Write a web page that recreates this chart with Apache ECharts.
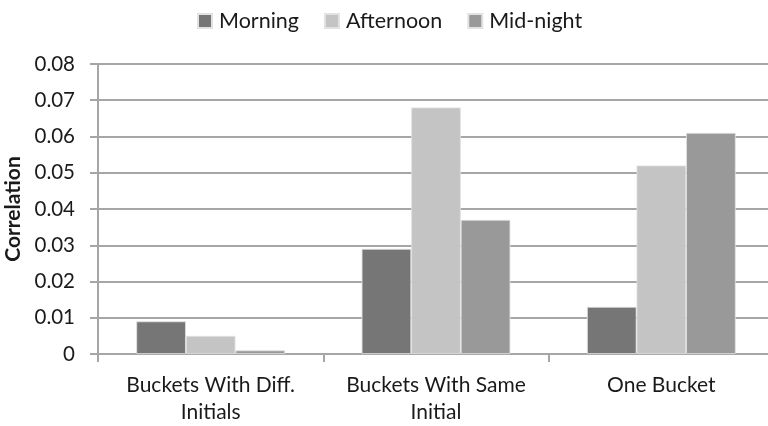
<!DOCTYPE html>
<html>
<head>
<meta charset="utf-8">
<script src="https://cdn.jsdelivr.net/npm/echarts@6/dist/echarts.min.js"></script>
<style>
  html, body { margin: 0; padding: 0; background: #fff; }
  #chart { width: 768px; height: 426px; }
</style>
</head>
<body>
<div id="chart"></div>
<script>
// Correlation by bucket strategy and time of day
const categories = ['Buckets With Diff.\nInitials', 'Buckets With Same\nInitial', 'One Bucket'];
const seriesNames = ['Morning', 'Afternoon', 'Mid-night'];
const morning = [0.009, 0.029, 0.013];
const afternoon = [0.005, 0.068, 0.052];
const midnight = [0.001, 0.037, 0.061];
const yTicks = ['0', '0.01', '0.02', '0.03', '0.04', '0.05', '0.06', '0.07', '0.08'];

const colors = ['#767676', '#c3c4c3', '#999999'];
const fontFamily = 'Lato, "Open Sans", sans-serif';
const axisGrey = '#a6a6a6';

const chart = echarts.init(document.getElementById('chart'), null, { renderer: 'canvas' });

const values = [morning, afternoon, midnight];

chart.setOption({
  animation: false,
  textStyle: { fontFamily: fontFamily },
  legend: {
    top: 5,
    left: 192,
    itemWidth: 14,
    itemHeight: 14,
    itemGap: 25,
    icon: 'rect',
    textStyle: { fontSize: 21.5, color: '#1a1a1a', fontFamily: fontFamily, padding: [0, 0, 0, 2] },
    data: seriesNames
  },
  grid: {
    left: 98, top: 64, width: 676, height: 290,
    containLabel: false,
    outerBoundsMode: 'none'
  },
  xAxis: {
    type: 'category',
    data: categories,
    axisLine: { show: true, lineStyle: { color: axisGrey, width: 2 } },
    axisTick: { show: true, length: 8, lineStyle: { color: axisGrey, width: 2 } },
    axisLabel: {
      interval: 0,
      hideOverlap: false,
      fontSize: 21, color: '#1a1a1a', margin: 18, lineHeight: 27,
      fontFamily: fontFamily
    }
  },
  yAxis: {
    type: 'value',
    min: 0,
    max: 0.08,
    interval: 0.01,
    name: 'Correlation',
    nameLocation: 'middle',
    nameGap: 68,
    nameTextStyle: { fontSize: 21, fontWeight: 'bold', color: '#1a1a1a', fontFamily: fontFamily },
    axisLine: { show: true, lineStyle: { color: axisGrey, width: 2 } },
    axisTick: { show: true, length: 8, lineStyle: { color: axisGrey, width: 2 } },
    splitLine: { show: true, lineStyle: { color: axisGrey, width: 2 } },
    axisLabel: {
      fontSize: 20.5, color: '#1a1a1a', margin: 23, fontFamily: fontFamily,
      formatter: function (v) {
        const i = Math.round(v / 0.01);
        return yTicks[i] !== undefined ? yTicks[i] : '';
      }
    }
  },
  series: seriesNames.map(function (name, i) {
    return {
      name: name,
      type: 'bar',
      data: values[i],
      barWidth: '22%',
      barGap: '0%',
      itemStyle: { color: colors[i], borderColor: '#e2e2e2', borderWidth: 0.8 }
    };
  })
});
</script>
</body>
</html>
